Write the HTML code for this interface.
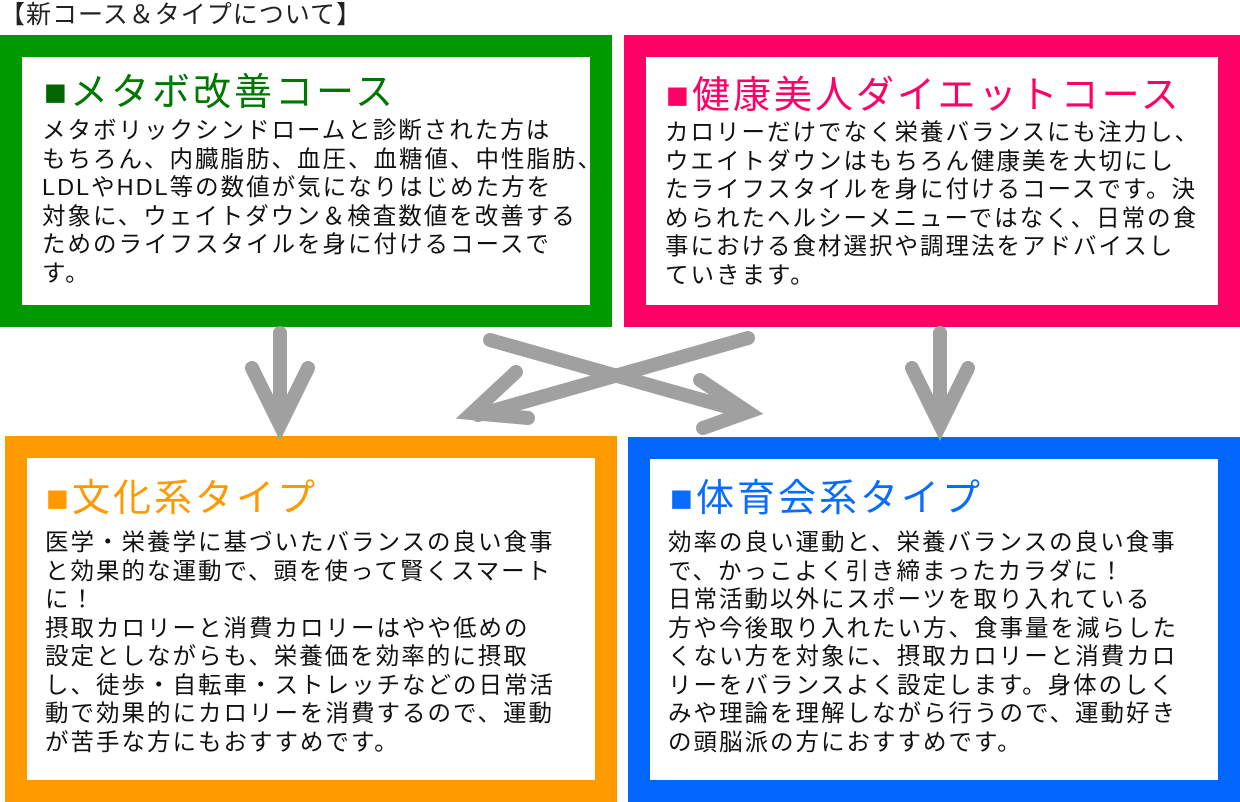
<!DOCTYPE html>
<html><head><meta charset="utf-8"><style>
body{margin:0;width:1240px;height:802px;background:#fff;position:relative;overflow:hidden;font-family:"Liberation Sans","Noto Sans CJK JP",sans-serif;}
.t{position:absolute;left:0px;top:0px;font-size:25px;line-height:30px;color:#222;white-space:nowrap;letter-spacing:1px}
.box{position:absolute;box-sizing:border-box;border:22px solid;background:#fff}
.h{position:absolute;font-size:38px;line-height:40px;white-space:nowrap;letter-spacing:3px}
.b{position:absolute;font-size:23.5px;line-height:28.5px;color:#111;white-space:pre;letter-spacing:2px}
</style></head><body>
<div class="t">【新コース＆タイプについて】</div>
<div class="box" style="left:0;top:35px;width:612px;height:292px;border-color:#009900"></div>
<div class="box" style="left:624px;top:35px;width:616px;height:292px;border-color:#ff0066"></div>
<div class="box" style="left:5px;top:436px;width:612px;height:366px;border-color:#ff9900"></div>
<div class="box" style="left:628px;top:437px;width:612px;height:365px;border-color:#0066ff"></div>

<svg style="position:absolute;left:0;top:0" width="1240" height="802">
<g stroke="#a0a0a0" stroke-width="14" stroke-linecap="round" fill="none">
<line x1="280" y1="333" x2="280" y2="420"/>
<polyline points="252,368 280,425 308,368"/>
<line x1="940" y1="333" x2="940" y2="420"/>
<polyline points="912,368 940,425 968,368"/>
<line x1="490" y1="340" x2="745" y2="412"/>
<polyline points="700,380 748,412 703,428"/>
<line x1="748" y1="338" x2="478" y2="415"/>
<polyline points="516,372 472,413 528,418"/>
</g>
</svg>

<div class="h" style="left:44px;top:73px;color:#007700"><span style="color:#006600">■</span>メタボ改善コース</div>
<div class="b" style="left:42px;top:116px">メタボリックシンドロームと診断された方は
もちろん、内臓脂肪、血圧、血糖値、中性脂肪、
LDLやHDL等の数値が気になりはじめた方を
対象に、ウェイトダウン＆検査数値を改善する
ためのライフスタイルを身に付けるコースで
す。</div>

<div class="h" style="left:666px;top:76px;color:#ff0066">■健康美人ダイエットコース</div>
<div class="b" style="left:665px;top:118px">カロリーだけでなく栄養バランスにも注力し、
ウエイトダウンはもちろん健康美を大切にし
たライフスタイルを身に付けるコースです。決
められたヘルシーメニューではなく、日常の食
事における食材選択や調理法をアドバイスし
ていきます。</div>

<div class="h" style="left:46px;top:479px;color:#ff9900">■文化系タイプ</div>
<div class="b" style="left:45px;top:528px">医学・栄養学に基づいたバランスの良い食事
と効果的な運動で、頭を使って賢くスマート
に！
摂取カロリーと消費カロリーはやや低めの
設定としながらも、栄養価を効率的に摂取
し、徒歩・自転車・ストレッチなどの日常活
動で効果的にカロリーを消費するので、運動
が苦手な方にもおすすめです。</div>

<div class="h" style="left:670px;top:479px;color:#0a6cff">■体育会系タイプ</div>
<div class="b" style="left:668px;top:528px">効率の良い運動と、栄養バランスの良い食事
で、かっこよく引き締まったカラダに！
日常活動以外にスポーツを取り入れている
方や今後取り入れたい方、食事量を減らした
くない方を対象に、摂取カロリーと消費カロ
リーをバランスよく設定します。身体のしく
みや理論を理解しながら行うので、運動好き
の頭脳派の方におすすめです。</div>
</body></html>
